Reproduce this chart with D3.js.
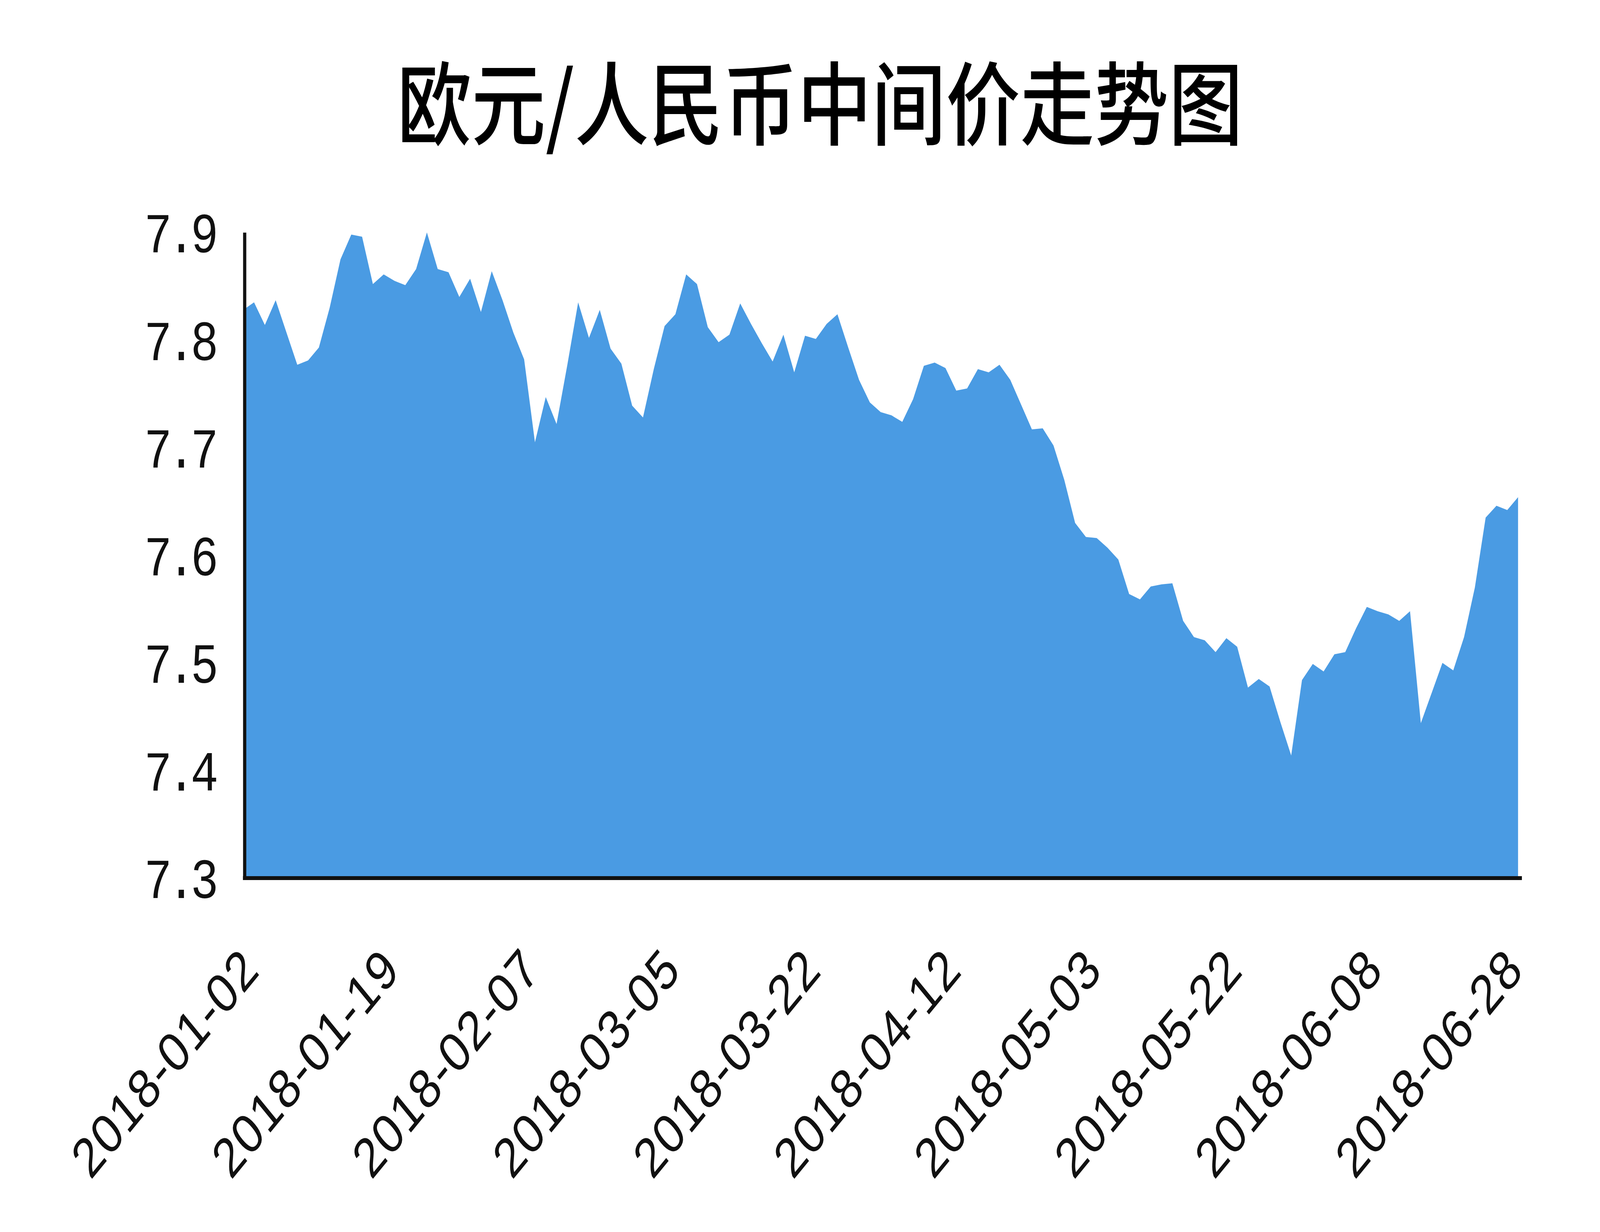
<!DOCTYPE html>
<html>
<head>
<meta charset="utf-8">
<script src="https://cdn.jsdelivr.net/npm/d3@7"></script>
<style>
  html, body { margin: 0; padding: 0; background: #fff; overflow: hidden; }
  #chart { display: block; width: 100vw; height: 100vh; }
</style>
</head>
<body>
<svg id="chart"></svg>
<script>
// ======================
// DATA
// ======================

const dates = [
    "2018-01-02", "2018-01-03", "2018-01-04", "2018-01-05", "2018-01-08", "2018-01-09", "2018-01-10",
    "2018-01-11", "2018-01-12", "2018-01-15", "2018-01-16", "2018-01-17", "2018-01-18", "2018-01-19",
    "2018-01-22", "2018-01-23", "2018-01-24", "2018-01-25", "2018-01-26", "2018-01-29", "2018-01-30",
    "2018-01-31", "2018-02-01", "2018-02-02", "2018-02-05", "2018-02-06", "2018-02-07", "2018-02-08",
    "2018-02-09", "2018-02-12", "2018-02-13", "2018-02-14", "2018-02-22", "2018-02-23", "2018-02-26",
    "2018-02-27", "2018-02-28", "2018-03-01", "2018-03-02", "2018-03-05", "2018-03-06", "2018-03-07",
    "2018-03-08", "2018-03-09", "2018-03-12", "2018-03-13", "2018-03-14", "2018-03-15", "2018-03-16",
    "2018-03-19", "2018-03-20", "2018-03-21", "2018-03-22", "2018-03-23", "2018-03-26", "2018-03-27",
    "2018-03-28", "2018-03-29", "2018-03-30", "2018-04-02", "2018-04-03", "2018-04-04", "2018-04-09",
    "2018-04-10", "2018-04-11", "2018-04-12", "2018-04-13", "2018-04-16", "2018-04-17", "2018-04-18",
    "2018-04-19", "2018-04-20", "2018-04-23", "2018-04-24", "2018-04-25", "2018-04-26", "2018-04-27",
    "2018-05-02", "2018-05-03", "2018-05-04", "2018-05-07", "2018-05-08", "2018-05-09", "2018-05-10",
    "2018-05-11", "2018-05-14", "2018-05-15", "2018-05-16", "2018-05-17", "2018-05-18", "2018-05-21",
    "2018-05-22", "2018-05-23", "2018-05-24", "2018-05-25", "2018-05-28", "2018-05-29", "2018-05-30",
    "2018-05-31", "2018-06-01", "2018-06-04", "2018-06-05", "2018-06-06", "2018-06-07", "2018-06-08",
    "2018-06-11", "2018-06-12", "2018-06-13", "2018-06-14", "2018-06-15", "2018-06-19", "2018-06-20",
    "2018-06-21", "2018-06-22", "2018-06-25", "2018-06-26", "2018-06-27", "2018-06-28", "2018-06-29"
];

const rates = [
    7.828, 7.835, 7.814, 7.837, 7.807, 7.777, 7.781, 7.793, 7.830, 7.875,
    7.898, 7.896, 7.852, 7.861, 7.855, 7.851, 7.866, 7.900, 7.866, 7.863,
    7.840, 7.857, 7.826, 7.864, 7.837, 7.807, 7.782, 7.705, 7.747, 7.722,
    7.777, 7.835, 7.802, 7.828, 7.792, 7.778, 7.739, 7.728, 7.773, 7.813,
    7.824, 7.861, 7.852, 7.812, 7.798, 7.805, 7.834, 7.815, 7.797, 7.780,
    7.805, 7.770, 7.804, 7.801, 7.815, 7.824, 7.793, 7.763, 7.742, 7.733,
    7.730, 7.724, 7.745, 7.776, 7.779, 7.774, 7.753, 7.755, 7.773, 7.770,
    7.777, 7.763, 7.740, 7.717, 7.718, 7.702, 7.670, 7.630, 7.617, 7.616,
    7.607, 7.596, 7.564, 7.559, 7.571, 7.573, 7.574, 7.539, 7.524, 7.521,
    7.510, 7.523, 7.515, 7.477, 7.485, 7.478, 7.445, 7.414, 7.484, 7.499,
    7.492, 7.508, 7.510, 7.532, 7.552, 7.548, 7.545, 7.539, 7.548, 7.444,
    7.472, 7.500, 7.493, 7.524, 7.570, 7.635, 7.646, 7.642, 7.654
];

const xTickLabels = [
    "2018-01-02", "2018-01-19", "2018-02-07", "2018-03-05", "2018-03-22",
    "2018-04-12", "2018-05-03", "2018-05-22", "2018-06-08", "2018-06-28"
];

const yTicks = [7.3, 7.4, 7.5, 7.6, 7.7, 7.8, 7.9];

const chartTitle = "欧元/人民币中间价走势图";

// ======================
// SETUP
// ======================

const width = 4999;
const height = 3154;
const fillColor = "#4a9be3";
const yFont = "'Liberation Mono', 'DejaVu Sans Mono', monospace";
const xFont = "'Liberation Sans', Arial, sans-serif";

// the window may come out narrower than 4999, so the drawing is fitted to it
const svg = d3.select("#chart")
    .attr("viewBox", `0 0 ${width} ${height}`)
    .attr("preserveAspectRatio", "none");

svg.append("rect")
    .attr("width", width)
    .attr("height", height)
    .attr("fill", "#fff");

const plot = { left: 764, right: 4743, top: 595, bottom: 2248 };

const xScale = d3.scalePoint()
    .domain(dates)
    .range([plot.left - 4, plot.right]);

const yScale = d3.scaleLinear()
    .domain([7.3, 7.9])
    .range([plot.bottom, plot.top]);

const data = dates.map((d, i) => ({ date: d, value: rates[i] }));

// Title
svg.append("text")
    .attr("x", 2562)
    .attr("y", 252)
    .attr("text-anchor", "middle")
    .attr("dominant-baseline", "central")
    .attr("font-family", "'Noto Sans CJK SC', sans-serif")
    .attr("font-weight", 500)
    .attr("font-size", 232)
    .attr("fill", "#000")
    .text(chartTitle);

// ======================
// AREA
// ======================

const area = d3.area()
    .x(d => xScale(d.date))
    .y0(yScale(7.3))
    .y1(d => yScale(d.value));

svg.append("path")
    .datum(data)
    .attr("d", area)
    .attr("fill", fillColor);

// ======================
// AXES
// ======================

const yAxis = d3.axisLeft(yScale)
    .tickValues(yTicks)
    .tickFormat(d3.format(".1f"))
    .tickSize(0)
    .tickSizeOuter(0)
    .tickPadding(0);

const yAxisG = svg.append("g")
    .attr("transform", `translate(${plot.left},0)`)
    .call(yAxis);

yAxisG.select(".domain")
    .attr("stroke", "#111")
    .attr("stroke-width", 10);

yAxisG.selectAll(".tick text")
    .attr("x", -96)
    .attr("dy", "0.35em")
    .attr("font-family", yFont)
    .attr("font-size", 145)
    .attr("letter-spacing", "-0.1em")
    .attr("fill", "#111");

const xAxis = d3.axisBottom(xScale)
    .tickValues(xTickLabels)
    .tickSize(0)
    .tickSizeOuter(0);

const xAxisG = svg.append("g")
    .attr("transform", `translate(0,${plot.bottom})`)
    .call(xAxis);

xAxisG.select(".domain").remove();

xAxisG.selectAll(".tick text")
    .attr("text-anchor", "end")
    .attr("font-family", xFont)
    .attr("font-size", 142)
    .attr("letter-spacing", "0.02em")
    .attr("fill", "#111")
    .attr("x", null)
    .attr("y", null)
    .attr("dy", null)
    .attr("transform", "translate(56,241) rotate(-45)");

// bottom axis line, slightly past the last point as in the original
svg.append("line")
    .attr("x1", plot.left - 5)
    .attr("x2", plot.right + 12)
    .attr("y1", plot.bottom)
    .attr("y2", plot.bottom)
    .attr("stroke", "#111")
    .attr("stroke-width", 10);

svg.selectAll(".tick line").remove();
svg.selectAll("g").attr("font-family", null).attr("font-size", null);
</script>
</body>
</html>
